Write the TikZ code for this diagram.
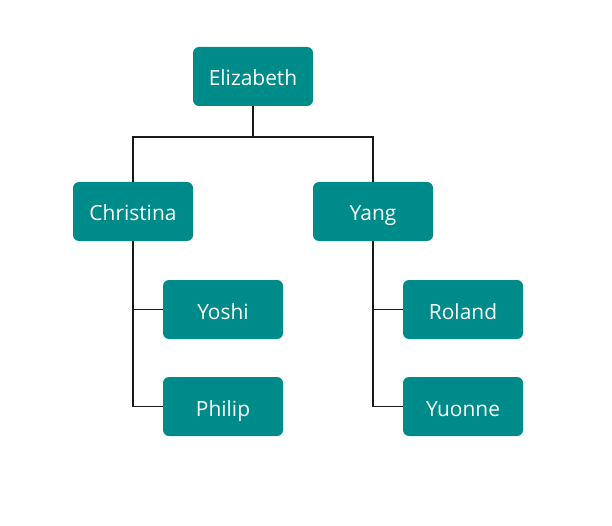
\documentclass[tikz,border=0pt]{standalone}
\usepackage{fontspec}
\setmainfont{Open Sans}
\definecolor{kteal}{HTML}{008B8B}
\tikzset{
  kperson/.style={fill=kteal, rounded corners=6bp, minimum width=120bp, minimum height=59bp, inner sep=0pt, text height=19bp, text depth=0bp, text=white, font=\fontsize{21}{24}\selectfont},
  link/.style={draw=black!90, line width=1.4bp},
}

\begin{document}
\begin{tikzpicture}[x=1bp, y=-1bp]
    \useasboundingbox (0,0) rectangle (612,526);
    \node[kperson] (elizabeth) at (253,76.5) {Elizabeth};
    \node[kperson] (christina) at (133,211.5) {Christina};
    \node[kperson] (yang) at (373,211.5) {Yang};
    \node[kperson] (yoshi) at (223,309.5) {Yoshi};
    \node[kperson] (philip) at (223,406.5) {Philip};
    \node[kperson] (roland) at (463,309.5) {Roland};
    \node[kperson] (yuonne) at (463,406.5) {Yuonne};
    \coordinate (split) at (253,137);
    \draw[link] (elizabeth.south) -- (split) -| (christina.north);
    \draw[link] (split) -| (yang.north);
    \draw[link] (christina.south) |- (yoshi.west);
    \draw[link] (christina.south) |- (philip.west);
    \draw[link] (yang.south) |- (roland.west);
    \draw[link] (yang.south) |- (yuonne.west);
  \end{tikzpicture}
\end{document}
